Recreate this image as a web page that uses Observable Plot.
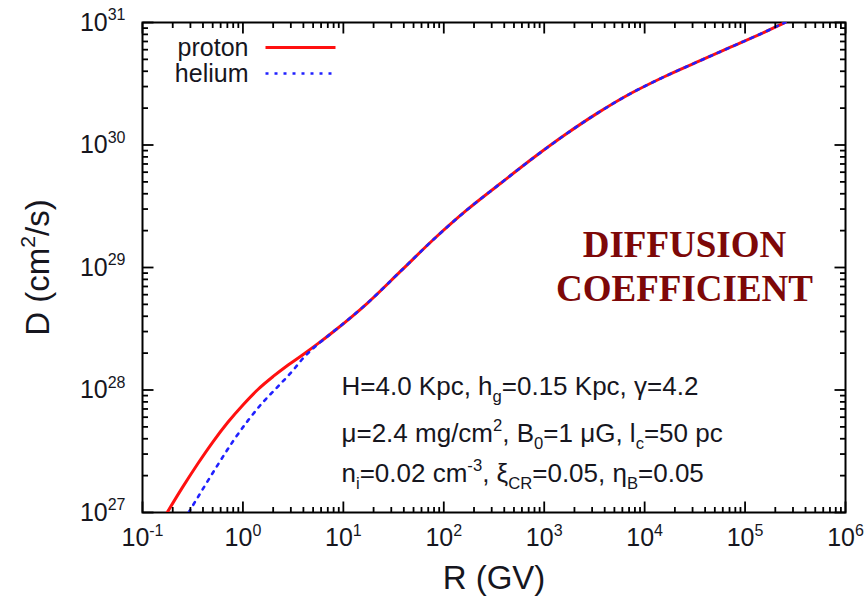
<!DOCTYPE html>
<html><head><meta charset="utf-8">
<script src="https://cdn.jsdelivr.net/npm/d3@7"></script>
<script src="https://cdn.jsdelivr.net/npm/@observablehq/plot@0.6"></script>
<style>body{margin:0;background:#fff}</style>
</head><body><div id="chart"></div>
<script>
// ---- data ----
const xDomain = [1e-1, 1e6];
const yDomain = [1e27, 1e31];
const xMajor = [1e-1, 1e0, 1e1, 1e2, 1e3, 1e4, 1e5, 1e6];
const yMajor = [1e27, 1e28, 1e29, 1e30, 1e31];
const seriesNames = ["proton", "helium"];

// low-rigidity part, where the two curves differ
const protonLowR = [0.176, 0.251, 0.355, 0.501, 0.708, 1.0, 1.41, 2.0, 2.82, 3.98, 5.62];
const protonLowD = [1.00e27, 1.61e27, 2.50e27, 3.76e27, 5.45e27, 7.55e27, 1.01e28, 1.29e28, 1.60e28, 1.95e28, 2.40e28];
const heliumLowR = [0.288, 0.398, 0.562, 0.794, 1.12, 1.58, 2.24, 3.16, 3.98, 5.01, 6.31];
const heliumLowD = [1.00e27, 1.55e27, 2.45e27, 3.80e27, 5.62e27, 7.94e27, 1.07e28, 1.45e28, 1.82e28, 2.19e28, 2.57e28];
// high-rigidity part, shared by both curves
const sharedR = [7.94, 17.4, 37.2, 79.4, 170, 372, 794, 1585, 3390, 7244, 15490, 33880, 72440, 154900, 229100, 251200];
const sharedD = [2.99e28, 5.13e28, 9.33e28, 1.70e29, 2.95e29, 4.90e29, 7.94e29, 1.20e30, 1.82e30, 2.63e30, 3.59e30, 4.79e30, 6.31e30, 8.32e30, 9.66e30, 1.00e31];

const paramLines = [
  "H=4.0 Kpc, h_{g}=0.15 Kpc, γ=4.2",
  "μ=2.4 mg/cm^{2}, B_{0}=1 μG, l_{c}=50 pc",
  "n_{i}=0.02 cm^{-3}, ξ_{CR}=0.05, η_{B}=0.05"
];
const titleLines = ["DIFFUSION", "COEFFICIENT"];
const xLabel = "R (GV)";
const yLabel = "D (cm^{2}/s)";

// ---- build ----
const rows = (name, R, D) => R.map((r, i) => ({series: name, R: r, D: D[i]}));
const proton = rows("proton", protonLowR.concat(sharedR), protonLowD.concat(sharedD));
const helium = rows("helium", heliumLowR.concat(sharedR), heliumLowD.concat(sharedD));

const minorOf = majors => majors.slice(0, -1).flatMap(d => [2,3,4,5,6,7,8,9].map(k => k * d));
const xMinor = minorOf(xMajor);
const yMinor = minorOf(yMajor);
const expFmt = d => `10^{${Math.round(Math.log10(d))}}`;

const W = 865, H = 596;
const mL = 142, mR = 20, mT = 22, mB = 84;
const fw = W - mL - mR, fh = H - mT - mB;
const lx = xDomain.map(Math.log10), ly = yDomain.map(Math.log10);
const xAtPx = px => 10 ** (lx[0] + (px / fw) * (lx[1] - lx[0]));   // px from frame left
const yAtPx = px => 10 ** (ly[1] - (px / fh) * (ly[1] - ly[0]));   // px from frame top

const RED = "#ff1010", BLUE = "#2020ff", INK = "#16161e";
const lineStyles = {
  proton: {stroke: RED, strokeWidth: 3},
  helium: {stroke: BLUE, strokeWidth: 2.6, strokeDasharray: "3,6"}
};

// inward tick segments on all four sides (lengths in px converted through the log scales)
const tickSegs = [];
for (const [vals, len] of [[xMajor, 11], [xMinor, 5.5]]) for (const v of vals) {
  tickSegs.push({x1: v, x2: v, y1: yDomain[0], y2: yAtPx(fh - len)});
  tickSegs.push({x1: v, x2: v, y1: yDomain[1], y2: yAtPx(len)});
}
for (const [vals, len] of [[yMajor, 11], [yMinor, 5.5]]) for (const v of vals) {
  tickSegs.push({y1: v, y2: v, x1: xDomain[0], x2: xAtPx(len)});
  tickSegs.push({y1: v, y2: v, x1: xDomain[1], x2: xAtPx(fw - len)});
}

const marks = [];
marks.push(Plot.frame({stroke: "black", strokeWidth: 2, fill: "none"}));
marks.push(Plot.axisX(xMajor, {anchor: "bottom", tickSize: 0, tickPadding: 16, tickFormat: expFmt, label: null, fontSize: 25, fill: INK}));
marks.push(Plot.axisY(yMajor, {anchor: "left", tickSize: 0, tickPadding: 17, tickFormat: expFmt, label: null, fontSize: 25, fill: INK}));

// curves
marks.push(Plot.line(proton, {x: "R", y: "D", ...lineStyles.proton, curve: "monotone-x", clip: true}));
marks.push(Plot.line(helium, {x: "R", y: "D", ...lineStyles.helium, curve: "monotone-x", clip: true}));

// legend
seriesNames.forEach((name, i) => {
  const cy = 25 + 26 * i;
  marks.push(Plot.text([name], {frameAnchor: "top-left", lineAnchor: "middle", dx: 106, dy: cy, text: d => d, textAnchor: "end", fontSize: 25, fill: INK}));
  marks.push(Plot.link([name], {x1: xAtPx(123), x2: xAtPx(193), y1: yAtPx(cy), y2: yAtPx(cy), ...lineStyles[name]}));
});

// parameter block
paramLines.forEach((t, i) => {
  marks.push(Plot.text([t], {frameAnchor: "top-left", lineAnchor: "middle", dx: 199, dy: [364, 411, 451][i], text: d => d, textAnchor: "start", fontSize: 26, fill: INK}));
});

// title
marks.push(Plot.text([titleLines.join("\n")], {frameAnchor: "top-left", lineAnchor: "middle", dx: 542, dy: 242, text: d => d, textAnchor: "middle", lineHeight: 1.2,
  fontSize: 37, fontWeight: "bold", fontFamily: "Liberation Serif", fill: "#7d0808"}));

// axis labels
marks.push(Plot.text([xLabel], {frameAnchor: "bottom", lineAnchor: "middle", textAnchor: "middle", dy: 66, text: d => d, fontSize: 33, fill: INK}));
marks.push(Plot.text([yLabel], {frameAnchor: "left", lineAnchor: "middle", textAnchor: "middle", dx: -104, rotate: -90, text: d => d, fontSize: 33, fill: INK}));

// ticks last
marks.push(Plot.link(tickSegs, {x1: "x1", x2: "x2", y1: "y1", y2: "y2", stroke: "black", strokeWidth: 1.8}));

const chart = Plot.plot({
  width: W, height: H,
  marginLeft: mL, marginRight: mR, marginTop: mT, marginBottom: mB,
  style: {fontFamily: "Liberation Sans, Arial, sans-serif", background: "white", color: INK},
  x: {type: "log", domain: xDomain, label: null},
  y: {type: "log", domain: yDomain, label: null},
  marks
});
document.getElementById("chart").appendChild(chart);

// super/subscript post-processing for ^{..} and _{..}
const NS = "http://www.w3.org/2000/svg";
function rich(el) {
  const s = el.textContent;
  if (!/[_^]\{/.test(s)) return;
  const fs = parseFloat(getComputedStyle(el).fontSize) || 16;
  while (el.firstChild) el.removeChild(el.firstChild);
  const re = /([_^])\{([^}]*)\}/g;
  let last = 0, off = 0, m;
  const add = (txt, target, size) => {
    const t = document.createElementNS(NS, "tspan");
    const dy = target - off; off = target;
    if (dy) t.setAttribute("dy", dy);
    if (size) t.setAttribute("font-size", size);
    t.textContent = txt;
    el.appendChild(t);
  };
  while ((m = re.exec(s))) {
    if (m.index > last) add(s.slice(last, m.index), 0, null);
    add(m[2], m[1] === "^" ? -0.42 * fs : 0.28 * fs, 0.64 * fs);
    last = re.lastIndex;
  }
  if (last < s.length) add(s.slice(last), 0, null);
}
chart.querySelectorAll("text").forEach(t => {
  const kids = t.querySelectorAll("tspan");
  if (kids.length) kids.forEach(rich); else rich(t);
});
</script></body></html>
